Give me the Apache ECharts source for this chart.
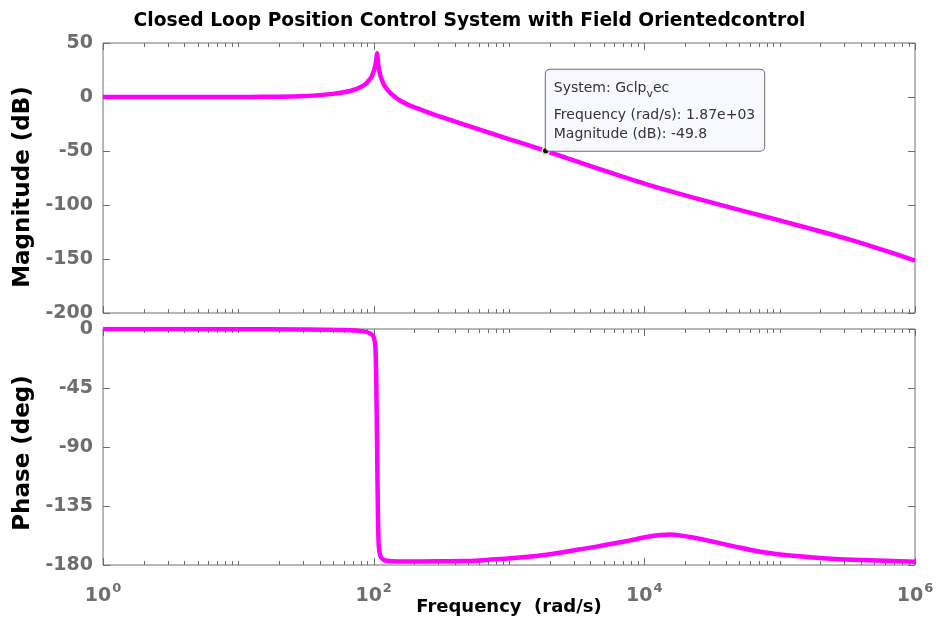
<!DOCTYPE html>
<html><head><meta charset="utf-8">
<script src="https://cdn.jsdelivr.net/npm/echarts@6/dist/echarts.min.js"></script>
<style>html,body{margin:0;padding:0;background:#fff}#c{width:939px;height:630px}</style>
</head><body><div id="c"></div>
<script>
// Magnitude (dB) vs frequency (rad/s)
const magFreq = [1, 5, 10, 15, 20, 28.6, 38, 50, 60, 67, 74, 79.4, 85, 89, 93, 96.8, 99.5, 102.4, 104, 105, 106, 107, 108.5, 110.5, 112.5, 114.8, 119, 125, 132, 140, 148, 165, 186, 220, 276, 316, 562, 1000, 1870, 3162, 5623, 10000, 17783, 31623, 56234, 100000, 177828, 316228, 562341, 1000000];
const magDb   = [0, 0, 0.05, 0.15, 0.3, 0.7, 1.5, 2.9, 4.4, 5.6, 7.2, 9, 11, 13, 15.8, 19, 23, 28, 33, 37, 40.5, 36, 29, 23, 19, 16, 11.5, 7.5, 4, 1.2, -1.2, -4.8, -8, -11.5, -16, -18.5, -28.8, -39.0, -49.8, -59.6, -70.1, -80.2, -89.3, -97.8, -106.1, -114.3, -122.7, -131.4, -141.0, -151.4];
// Phase (deg) vs frequency (rad/s)
const phaseFreq = [1, 10, 30, 60, 85, 95, 100, 103, 104.5, 106, 107.5, 109, 112, 118, 130, 150, 300, 450, 611, 800, 1090, 1450, 1900, 2500, 3350, 4440, 5910, 7850, 10430, 13100, 15500, 21800, 30600, 47000, 71800, 110000, 168000, 256000, 393000, 1000000];
const phaseDeg  = [0, -0.1, -0.3, -0.7, -1.8, -3.5, -6, -14, -40, -90, -140, -165, -173, -176, -177, -177.3, -177.2, -177.0, -176.5, -175.7, -174.6, -173.5, -172.2, -170.3, -168, -166, -163.6, -161.2, -158.7, -157.2, -156.7, -158.6, -161.7, -166, -169.9, -172.4, -174.1, -175.4, -176.2, -177.5];
// Axis ticks
const magTicks = [-200, -150, -100, -50, 0, 50];
const phaseTicks = [-180, -135, -90, -45, 0];
const xLabelExponents = [0, 2, 4, 6];
// Data tip
const tipSystem = 'Gclp', tipSub = 'v', tipSuffix = 'ec';
const tipFreqText = '1.87e+03';
const tipFreq = 1870, tipMag = -49.8;

const tickGrey = '#6e6e6e';
const font = "'DejaVu Sans', sans-serif";

// tick list: major at labelled decades, minor elsewhere
const xTicks = [];
for (let k = 0; k <= 6; k++) {
  const d = Math.pow(10, k);
  xTicks.push([d, xLabelExponents.indexOf(k) >= 0 ? 1 : 0]);
  if (k < 6) for (let m = 2; m <= 9; m++) xTicks.push([m * d, 0]);
}

function tickRender(yMin, yMax) {
  return function (params, api) {
    const f = api.value(0), major = api.value(1);
    const pT = api.coord([f, yMax]), pB = api.coord([f, yMin]);
    const x = Math.round(pT[0]) + 0.5;
    const len = major ? 7 : 4;
    const st = {stroke: tickGrey, lineWidth: 1};
    return {type: 'group', children: [
      {type: 'line', shape: {x1: x, y1: pT[1], x2: x, y2: pT[1] + len}, style: st},
      {type: 'line', shape: {x1: x, y1: pB[1], x2: x, y2: pB[1] - len}, style: st}
    ]};
  };
}

const pair = (xs, ys) => xs.map((x, i) => [x, ys[i]]);

const yLabel = {fontFamily: font, fontWeight: 'bold', fontSize: 19, color: tickGrey, margin: 10};
function nameStyle(shift) {
  return {fontFamily: font, fontWeight: 'bold', fontSize: 23, color: '#000', padding: [0, shift, 0, 0]};
}

function yAx(grid, min, max, ticks, pos, name, shift) {
  return {
    gridIndex: grid, type: 'value', min: min, max: max, interval: ticks[1] - ticks[0], position: pos,
    name: name, nameLocation: 'middle', nameGap: 68, nameTextStyle: nameStyle(shift || 0),
    axisLine: {show: false},
    axisTick: {show: true, inside: true, length: 7, lineStyle: {color: tickGrey}},
    axisLabel: pos === 'left' ? yLabel : {show: false},
    splitLine: {show: false}
  };
}

function xAx(grid, labels) {
  return {
    gridIndex: grid, type: 'log', logBase: 10, min: 1, max: 1e6,
    axisLine: {show: false}, axisTick: {show: false}, splitLine: {show: false}, minorTick: {show: false},
    axisLabel: labels ? {
      show: true, margin: 17,
      formatter: function (v) {
        const e = Math.round(Math.log10(v));
        if (Math.abs(Math.log10(v) - e) > 1e-6 || xLabelExponents.indexOf(e) < 0) return '';
        return '{b|10}{s|' + e + '}';
      },
      rich: {
        b: {fontFamily: font, fontWeight: 'bold', fontSize: 19, color: tickGrey, lineHeight: 24, verticalAlign: 'bottom'},
        s: {fontFamily: font, fontWeight: 'bold', fontSize: 13, color: tickGrey, lineHeight: 24, verticalAlign: 'top', padding: [0, 0, 0, 1]}
      }
    } : {show: false},
    name: labels ? 'Frequency  (rad/s)' : '', nameLocation: 'middle', nameGap: 33, nameMoveOverlap: false,
    nameTextStyle: {fontFamily: font, fontWeight: 'bold', fontSize: 18, color: '#000'}
  };
}

const tipFont = "'DejaVu Sans', sans-serif";
const chart = echarts.init(document.getElementById('c'));
chart.setOption({
  animation: false,
  backgroundColor: '#fff',
  title: {
    text: 'Closed Loop Position Control System with Field Orientedcontrol',
    left: 'center', top: 7,
    textStyle: {fontFamily: font, fontWeight: 'bold', fontSize: 18.7, color: '#000'}
  },
  grid: [
    {left: 103, top: 43, width: 812, height: 270, show: true, borderColor: tickGrey, borderWidth: 1, backgroundColor: 'transparent'},
    {left: 103, top: 329, width: 812, height: 236, show: true, borderColor: tickGrey, borderWidth: 1, backgroundColor: 'transparent'}
  ],
  xAxis: [xAx(0, false), xAx(1, true)],
  yAxis: [
    yAx(0, -200, 50, magTicks, 'left', 'Magnitude (dB)', 18),
    yAx(1, -180, 0, phaseTicks, 'left', 'Phase (deg)', 12),
    yAx(0, -200, 50, magTicks, 'right', ''),
    yAx(1, -180, 0, phaseTicks, 'right', '')
  ],
  series: [
    {type: 'custom', xAxisIndex: 0, yAxisIndex: 0, silent: true, clip: false, data: xTicks, renderItem: tickRender(-200, 50)},
    {type: 'custom', xAxisIndex: 1, yAxisIndex: 1, silent: true, clip: false, data: xTicks, renderItem: tickRender(-180, 0)},
    {
      type: 'line', xAxisIndex: 0, yAxisIndex: 0, data: pair(magFreq, magDb),
      showSymbol: false, smooth: 0.25, clip: true, silent: true,
      lineStyle: {color: '#ff00ff', width: 4.5, join: 'round'}, itemStyle: {color: '#ff00ff'},
      markPoint: {
        silent: true, symbol: 'circle', symbolSize: 7,
        itemStyle: {color: '#111', borderColor: '#f2f2c0', borderWidth: 1.5},
        data: [{coord: [tipFreq, tipMag]}],
        label: {
          show: true, position: ['50%', '50%'], align: 'left', verticalAlign: 'bottom',
          backgroundColor: '#f8f8ff', borderColor: '#6e6e6e', borderWidth: 1, borderRadius: 4,
          padding: [1, 9, 7, 8],
          fontFamily: tipFont, fontSize: 14, color: '#333', lineHeight: 19,
          formatter: function () {
            return '{h|System: ' + tipSystem + '}{sub|' + tipSub + '}{h|' + tipSuffix + '}\n' +
                   'Frequency (rad/s): ' + tipFreqText + '\n' +
                   'Magnitude (dB): ' + tipMag;
          },
          rich: {
            h: {fontFamily: tipFont, fontSize: 14, color: '#333', lineHeight: 35},
            sub: {fontFamily: tipFont, fontSize: 11, color: '#333', lineHeight: 35, padding: [12, 0, 0, 0]}
          }
        }
      }
    },
    {
      type: 'line', xAxisIndex: 1, yAxisIndex: 1, data: pair(phaseFreq, phaseDeg),
      showSymbol: false, smooth: 0.25, clip: true, silent: true,
      lineStyle: {color: '#ff00ff', width: 4.5, join: 'round'}
    }
  ]
});
</script>
</body></html>
